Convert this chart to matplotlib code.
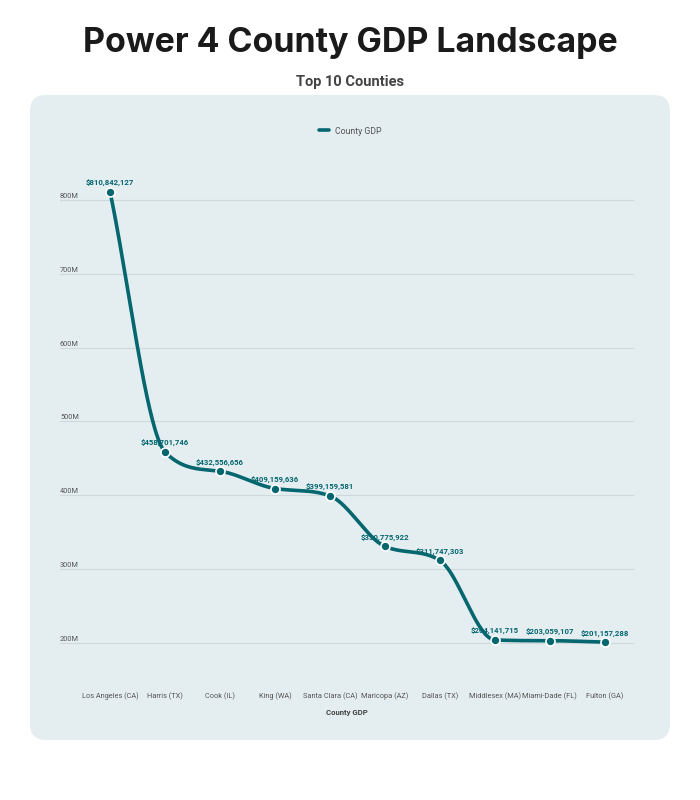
import numpy as np
import matplotlib
matplotlib.use("Agg")
import matplotlib.pyplot as plt
from matplotlib.patches import FancyBboxPatch
from matplotlib.transforms import IdentityTransform
from matplotlib.ticker import FuncFormatter

# data
counties = ["Los Angeles (CA)", "Harris (TX)", "Cook (IL)", "King (WA)", "Santa Clara (CA)",
            "Maricopa (AZ)", "Dallas (TX)", "Middlesex (MA)", "Miami-Dade (FL)", "Fulton (GA)"]
gdp = [810842127, 458701746, 432556656, 409159636, 399159581,
       330775922, 311747303, 204141715, 203059107, 201157288]
y_ticks = [200e6, 300e6, 400e6, 500e6, 600e6, 700e6, 800e6]

TEAL = "#04666F"
CARD = "#E4EEF0"

plt.rcParams['font.family'] = ['Roboto', 'DejaVu Sans']


def monotone_curve(x, y, n=40):
    # Fritsch-Carlson monotone cubic, only used to draw the smooth line
    x = np.asarray(x, float)
    y = np.asarray(y, float)
    h = np.diff(x)
    d = np.diff(y) / h
    m = np.zeros_like(y)
    m[0], m[-1] = d[0], d[-1]
    for i in range(1, len(y) - 1):
        m[i] = 0.0 if d[i - 1] * d[i] <= 0 else (d[i - 1] + d[i]) / 2
    for i in range(len(d)):
        if d[i] == 0:
            m[i] = m[i + 1] = 0
            continue
        a, b = m[i] / d[i], m[i + 1] / d[i]
        s = a * a + b * b
        if s > 9:
            t = 3 / np.sqrt(s)
            m[i], m[i + 1] = t * a * d[i], t * b * d[i]
    xs, ys = [], []
    for i in range(len(d)):
        t = np.linspace(0, 1, n)
        h00 = 2 * t**3 - 3 * t**2 + 1
        h10 = t**3 - 2 * t**2 + t
        h01 = -2 * t**3 + 3 * t**2
        h11 = t**3 - t**2
        xs.append(x[i] + t * h[i])
        ys.append(h00 * y[i] + h10 * h[i] * m[i] + h01 * y[i + 1] + h11 * h[i] * m[i + 1])
    return np.concatenate(xs), np.concatenate(ys)


fig = plt.figure(figsize=(7, 8), dpi=100)
fig.patch.set_facecolor("white")

# rounded card behind the chart (pixel coords)
card = FancyBboxPatch((30, 60), 640, 645, boxstyle="round,pad=0,rounding_size=16",
                      transform=IdentityTransform(), facecolor=CARD, edgecolor="none", zorder=-5)
fig.patches.append(card)

fig.text(0.5, 1 - 43 / 800, "Power 4 County GDP Landscape", ha="center", va="center",
         fontsize=24.4, fontweight="bold", color="#1a1a1a", family=["Inter", "DejaVu Sans"])
fig.text(0.5, 1 - 82 / 800, "Top 10 Counties", ha="center", va="center",
         fontsize=10.5, fontweight="bold", color="#444444")

ax = fig.add_axes([60 / 700, 1 - 670 / 800, 574 / 700, 510 / 800])
ax.set_facecolor("none")
ax.set_zorder(2)

x = np.arange(len(counties))
cx, cy = monotone_curve(x, gdp)
ax.plot(cx, cy, color=TEAL, lw=2.6, solid_capstyle="round", zorder=3, label="County GDP")
ax.plot(x, gdp, "o", color=TEAL, ms=6.5, mec="white", mew=1.2, zorder=4)

for xi, v in zip(x, gdp):
    ax.annotate(f"${v:,.0f}", (xi, v), xytext=(0, 4), textcoords="offset points",
                ha="center", va="bottom", fontsize=5.6, fontweight="bold", color=TEAL, zorder=5)

ax.set_xlim(-0.91, 9.53)
ax.set_ylim(163.4e6, 854e6)
ax.set_xticks(x)
ax.set_xticklabels(counties, fontsize=5.3, color="#555555")
ax.set_yticks(y_ticks)
ax.yaxis.set_major_formatter(FuncFormatter(lambda v, p: f"{v / 1e6:.0f}M"))
ax.tick_params(axis="both", length=0)
ax.tick_params(axis="x", pad=16)
ax.tick_params(axis="y", pad=0, labelsize=5.3, labelcolor="#555555")
for lbl in ax.get_yticklabels():
    lbl.set_horizontalalignment("left")
    lbl.set_verticalalignment("bottom")
ax.grid(axis="y", color="#CFD8DB", lw=0.8)
ax.set_axisbelow(True)
for s in ax.spines.values():
    s.set_visible(False)
ax.set_xlabel("County GDP", fontsize=5.6, fontweight="bold", color="#444444", labelpad=6)

leg = ax.legend(loc="center", bbox_to_anchor=(0.5, 1 - 131 / 800), bbox_transform=fig.transFigure,
                frameon=False, fontsize=6.3, handlelength=1.2, handletextpad=0.6)
for t in leg.get_texts():
    t.set_color("#555555")

fig.savefig("out.png", dpi=100)
